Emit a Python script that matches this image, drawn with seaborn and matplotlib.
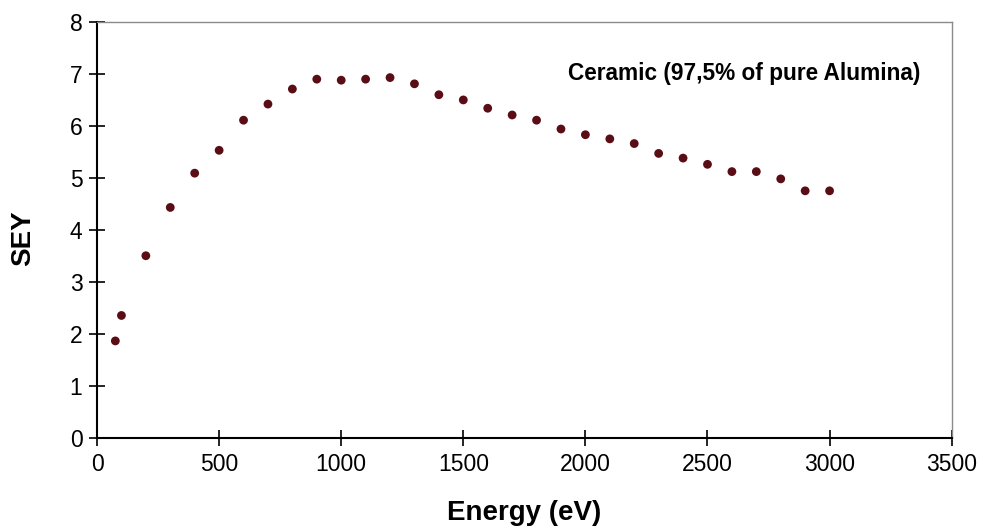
import matplotlib
matplotlib.use("Agg")
import matplotlib.pyplot as plt
import seaborn as sns
import pandas as pd

# Secondary electron yield of a ceramic sample vs. primary electron energy
energy_ev = [75, 100, 200, 300, 400, 500, 600, 700, 800, 900, 1000, 1100, 1200,
             1300, 1400, 1500, 1600, 1700, 1800, 1900, 2000, 2100, 2200, 2300,
             2400, 2500, 2600, 2700, 2800, 2900, 3000]
sey = [1.86, 2.35, 3.50, 4.43, 5.09, 5.53, 6.11, 6.42, 6.71, 6.90, 6.88, 6.90, 6.93,
       6.81, 6.60, 6.50, 6.34, 6.21, 6.11, 5.94, 5.83, 5.75, 5.66, 5.47,
       5.38, 5.26, 5.12, 5.12, 4.98, 4.75, 4.75]

x_ticks = [0, 500, 1000, 1500, 2000, 2500, 3000, 3500]
y_ticks = [0, 1, 2, 3, 4, 5, 6, 7, 8]
series_label = "Ceramic (97,5% of pure Alumina)"

df = pd.DataFrame({"Energy": energy_ev, "SEY": sey})

sns.set_style("white")
plt.rcParams["font.family"] = ["Liberation Sans", "DejaVu Sans"]
plt.rcParams["text.color"] = "black"
plt.rcParams["axes.labelcolor"] = "black"

fig = plt.figure(figsize=(9.81, 5.32), dpi=100)
ax = fig.add_axes([0.0989, 0.1776, 0.8712, 0.781])

sns.scatterplot(data=df, x="Energy", y="SEY", ax=ax, s=40, color="#5a0d14",
                edgecolor="none", linewidth=0, zorder=3)

ax.set_xlim(0, 3500)
ax.set_ylim(0, 8)
ax.set_xticks(x_ticks)
ax.set_yticks(y_ticks)
ax.tick_params(axis="both", which="major", bottom=True, left=True,
               top=False, right=False, direction="inout", length=11, width=1.2,
               color="black", labelsize=16.5, labelcolor="black")
ax.tick_params(axis="x", pad=6)
ax.tick_params(axis="y", pad=5)

for side in ("left", "bottom"):
    ax.spines[side].set_color("black")
    ax.spines[side].set_linewidth(1.5)
for side in ("top", "right"):
    ax.spines[side].set_color("#8a8a8a")
    ax.spines[side].set_linewidth(1.0)

ax.set_xlabel("Energy (eV)", fontsize=20, fontweight="bold", labelpad=17)
ax.set_ylabel("SEY", fontsize=20, fontweight="bold")
ax.yaxis.set_label_coords(-0.071, 0.48)

ax.text(0.9629, 0.877, series_label, transform=ax.transAxes, ha="right",
        va="center", fontsize=16.3, fontweight="bold", color="black")

fig.savefig("out.png", dpi=100)
